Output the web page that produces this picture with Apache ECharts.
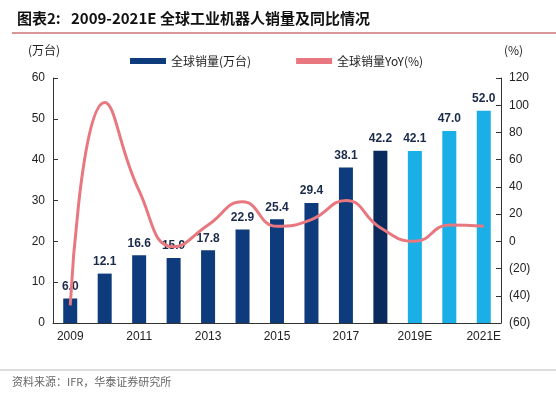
<!DOCTYPE html><html><head><meta charset="utf-8"><script src="https://cdn.jsdelivr.net/npm/echarts@6/dist/echarts.min.js"></script></head><body style="margin:0;background:#fff"><div id="c" style="width:556px;height:406px"></div><script>
const categories=['2009','2010','2011','2012','2013','2014','2015','2016','2017','2018','2019E','2020E','2021E'];
const sales=[6.0,12.1,16.6,15.9,17.8,22.9,25.4,29.4,38.1,42.2,42.1,47.0,52.0];
const yoy=[-47,102,37,-4,12,29,11,16,30,10,0,12,11];
const barColors=['#0d3b7c','#0d3b7c','#0d3b7c','#0d3b7c','#0d3b7c','#0d3b7c','#0d3b7c','#0d3b7c','#0d3b7c','#082a5c','#1aafe6','#1aafe6','#1aafe6'];
const F='"Noto Sans CJK SC",Arial,sans-serif';
const c=echarts.init(document.getElementById('c'));
c.setOption({animation:false,
title:{text:'图表2:   2009-2021E 全球工业机器人销量及同比情况',left:12,top:6,textStyle:{fontSize:15,fontWeight:'bold',color:'#111',fontFamily:F}},
graphic:[{type:'line',shape:{x1:12,y1:33,x2:556,y2:33},style:{stroke:'#b03030',lineWidth:1}},
{type:'line',shape:{x1:0,y1:370,x2:556,y2:370},style:{stroke:'#bbb',lineWidth:1}},
{type:'text',left:12,top:376,style:{text:'资料来源：IFR，华泰证券研究所',fontSize:11,fill:'#666',fontFamily:F}},
{type:'text',left:28,top:44,style:{text:'(万台)',fontSize:12,fill:'#222',fontFamily:F}},
{type:'text',left:504,top:44,style:{text:'(%)',fontSize:12,fill:'#222',fontFamily:F}}],
legend:{top:50,left:125,itemGap:45,itemWidth:36,itemHeight:6,textStyle:{fontSize:12,color:'#222',fontFamily:F},
data:[{name:'全球销量(万台)',icon:'rect',itemStyle:{color:'#0d3b7c'}},{name:'全球销量YoY(%)',icon:'rect',itemStyle:{color:'#e8777f'}}]},
grid:{left:53,right:55,top:78,bottom:83},
xAxis:{type:'category',data:categories,axisLine:{lineStyle:{color:'#333'}},axisTick:{alignWithLabel:false,lineStyle:{color:'#333'}},
axisLabel:{interval:1,fontSize:12,color:'#222',fontFamily:'Arial'}},
yAxis:[{type:'value',min:0,max:60,interval:10,splitLine:{show:false},axisLine:{show:true,lineStyle:{color:'#333'}},axisTick:{show:true,inside:true},axisLabel:{fontSize:12,color:'#222',fontFamily:'Arial'}},
{type:'value',min:-60,max:120,interval:20,splitLine:{show:false},axisLine:{show:true,lineStyle:{color:'#333'}},axisTick:{show:true,inside:true},
axisLabel:{fontSize:12,color:'#222',fontFamily:'Arial',formatter:v=>v<0?'('+(-v)+')':v}}],
series:[{name:'全球销量(万台)',type:'bar',barWidth:14,z:2,data:sales.map((v,i)=>({value:v,itemStyle:{color:barColors[i]}})),
label:{show:true,position:'top',distance:6,fontSize:12,fontWeight:'bold',color:'#1a2a4a',fontFamily:'Arial',formatter:p=>p.value.toFixed(1)}},
{name:'全球销量YoY(%)',type:'line',yAxisIndex:1,smooth:0.5,showSymbol:false,data:yoy,lineStyle:{color:'#e8777f',width:3},z:3}]
});
</script></body></html>
